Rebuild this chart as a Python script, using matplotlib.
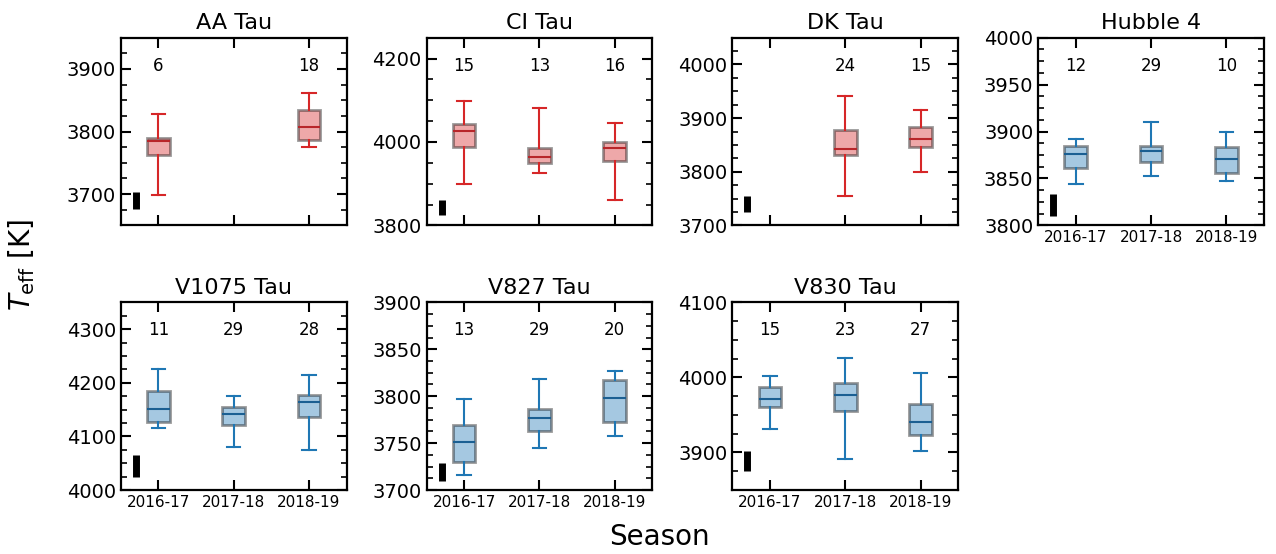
import numpy as np
import matplotlib.pyplot as plt
from matplotlib.ticker import MultipleLocator, AutoMinorLocator

nan = np.nan

stars = ["AA Tau", "CI Tau", "DK Tau", "Hubble 4", "V1075 Tau", "V827 Tau", "V830 Tau"]
seasons = ["2016-17", "2017-18", "2018-19"]
accretor = [True, True, True, False, False, False, False]

# box statistics per star and season (K), nan = no data that season
whislo = [[3699, nan, 3776], [3898, 3926, 3861], [nan, 3755, 3800], [3844, 3853, 3847],
          [4116, 4080, 4075], [3716, 3745, 3758], [3931, 3891, 3902]]
q1 = [[3762, nan, 3786], [3988, 3950, 3954], [nan, 3831, 3847], [3861, 3867, 3856],
      [4127, 4122, 4137], [3730, 3763, 3773], [3960, 3955, 3923]]
med = [[3785, nan, 3807], [4026, 3964, 3986], [nan, 3843, 3861], [3876, 3879, 3871],
       [4152, 4142, 4165], [3751, 3777, 3798], [3971, 3977, 3940]]
q3 = [[3789, nan, 3834], [4044, 3985, 3999], [nan, 3878, 3884], [3885, 3885, 3884],
      [4185, 4154, 4178], [3769, 3786, 3817], [3987, 3992, 3964]]
whishi = [[3828, nan, 3862], [4098, 4082, 4046], [nan, 3941, 3915], [3892, 3910, 3899],
          [4225, 4175, 4215], [3797, 3818, 3827], [4002, 4026, 4006]]
n_spec = [[6, 0, 18], [15, 13, 16], [0, 24, 15], [12, 29, 10],
          [11, 29, 28], [13, 29, 20], [15, 23, 27]]

# typical uncertainty bar (lower, upper)
err_lo = [3676, 3826, 3724, 3810, 4025, 3710, 3875]
err_hi = [3703, 3860, 3755, 3833, 4065, 3729, 3902]

ylims = [(3650, 3950), (3800, 4250), (3700, 4050), (3800, 4000),
         (4000, 4350), (3700, 3900), (3850, 4100)]
ysteps = [100, 200, 100, 50, 100, 50, 100]

fig, axes = plt.subplots(2, 4, figsize=(12.76, 5.54), dpi=100)
fig.subplots_adjust(left=0.0946, right=0.9906, top=0.932, bottom=0.1155,
                    wspace=0.354, hspace=0.41)
axes = axes.ravel()
axes[7].remove()

for i, star in enumerate(stars):
    ax = axes[i]
    if accretor[i]:
        col, medcol = "#d62728", "#b8262a"
    else:
        col, medcol = "#1f77b4", "#1b5f92"

    stats = []
    pos = []
    for j in range(3):
        if np.isnan(med[i][j]):
            continue
        stats.append(dict(whislo=whislo[i][j], q1=q1[i][j], med=med[i][j],
                          q3=q3[i][j], whishi=whishi[i][j], fliers=[]))
        pos.append(j + 1)
    ax.bxp(stats, positions=pos, widths=0.3, capwidths=0.18, patch_artist=True,
           showfliers=False,
           boxprops=dict(facecolor=(*plt.matplotlib.colors.to_rgb(col), 0.4),
                         edgecolor=(0, 0, 0, 0.4), linewidth=2),
           whiskerprops=dict(color=col, linewidth=1.5),
           capprops=dict(color=col, linewidth=1.5),
           medianprops=dict(color=medcol, linewidth=1.5))

    for j in range(3):
        if n_spec[i][j] > 0:
            ax.text(j + 1, 0.85, str(n_spec[i][j]), transform=ax.get_xaxis_transform(),
                    ha="center", va="center", fontsize=12)

    ax.vlines(0.7, err_lo[i], err_hi[i], color="k", linewidth=5)

    ax.set_xlim(0.5, 3.5)
    ax.set_ylim(*ylims[i])
    ax.set_xticks([1, 2, 3])
    if i >= 3:
        ax.set_xticklabels(seasons, fontsize=11)
    else:
        ax.set_xticklabels([])
    ax.yaxis.set_major_locator(MultipleLocator(ysteps[i]))
    ax.yaxis.set_minor_locator(AutoMinorLocator(4))
    ax.tick_params(axis="both", which="both", direction="in", top=True, right=True)
    ax.tick_params(axis="both", which="major", length=7, width=1.5)
    ax.tick_params(axis="y", which="major", labelsize=14)
    ax.tick_params(axis="y", which="minor", length=4, width=1.2)
    for sp in ax.spines.values():
        sp.set_linewidth(1.6)
    ax.set_title(star, fontsize=16)

fig.text(0.017, 0.522, r"$T_{\rm eff}$ [K]", rotation=90, ha="center", va="center", fontsize=20)
fig.text(0.517, 0.03, "Season", ha="center", va="center", fontsize=20)

fig.savefig("out.png", dpi=100)
